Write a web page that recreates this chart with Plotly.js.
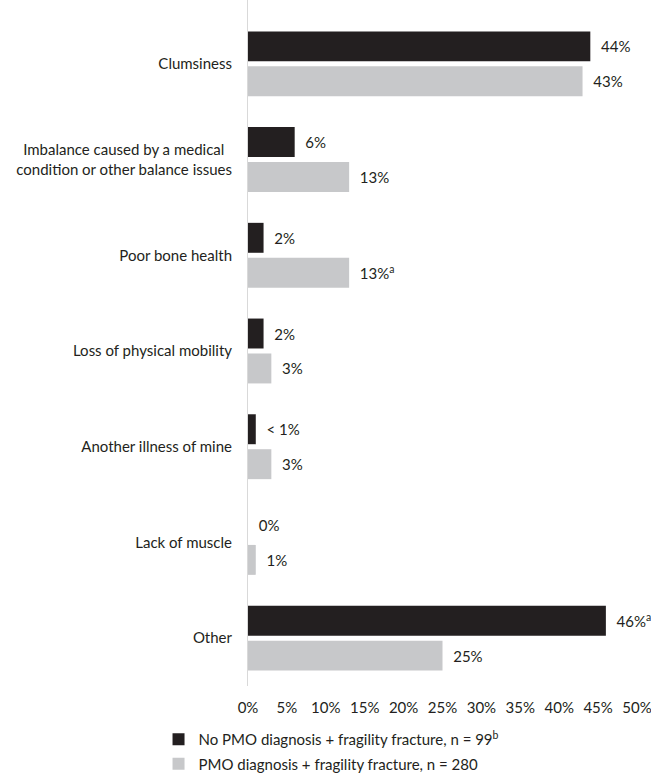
<!DOCTYPE html>
<html>
<head>
<meta charset="utf-8">
<script src="https://cdn.plot.ly/plotly-3.0.1.min.js"></script>
<style>html,body{margin:0;padding:0;background:#fff;}</style>
</head>
<body>
<div id="chart" style="width:651px;height:776px;"></div>
<script>
const categories = [
  "Clumsiness",
  "Imbalance caused by a medical\u00a0\u00a0<br>condition or other balance issues",
  "Poor bone health",
  "Loss of physical mobility",
  "Another illness of mine",
  "Lack of muscle",
  "Other"
];
const noPmoValues = [44, 6, 2, 2, 1, 0, 46];
const pmoValues = [43, 13, 13, 3, 3, 1, 25];
const noPmoLabels = ["44%", "6%", "2%", "2%", "< 1%", "0%", "46%<sup>a</sup>"];
const pmoLabels = ["43%", "13%", "13%<sup>a</sup>", "3%", "3%", "1%", "25%"];
const seriesNames = [
  "No PMO diagnosis + fragility fracture, n = 99<sup>b</sup>",
  "PMO diagnosis + fragility fracture, n = 280"
];
const xTicks = [0, 5, 10, 15, 20, 25, 30, 35, 40, 45, 50];
const xTickText = ["0%", "5%", "10%", "15%", "20%", "25%", "30%", "35%", "40%", "45%", "50%"];

const font = "Lato, 'Open Sans', sans-serif";
const textColor = "#231f20";
const fs = 15;

const traces = [
  {
    type: "bar", orientation: "h",
    y: categories, x: noPmoValues,
    name: seriesNames[0], legendgroup: "a",
    marker: {color: "#231f20"},
    text: noPmoLabels, texttemplate: "\u00a0\u00a0%{text}",
    textposition: "outside", cliponaxis: false,
    textfont: {family: font, size: fs, color: textColor},
    hoverinfo: "skip"
  },
  {
    type: "bar", orientation: "h",
    y: categories, x: pmoValues,
    name: seriesNames[1], legendgroup: "b",
    marker: {color: "#c7c8ca"},
    text: pmoLabels, texttemplate: "\u00a0\u00a0%{text}",
    textposition: "outside", cliponaxis: false,
    textfont: {family: font, size: fs, color: textColor},
    hoverinfo: "skip"
  }
];

const layout = {
  width: 651, height: 776,
  margin: {l: 248, r: 14, t: 0, b: 90, pad: 0, autoexpand: false},
  paper_bgcolor: "#fff", plot_bgcolor: "#fff",
  font: {family: font, size: fs, color: textColor},
  barmode: "group", bargap: 0.27, bargroupgap: 0.143,
  showlegend: true,
  legend: {
    orientation: "v", x: -0.23, xanchor: "left",
    y: -0.054, yanchor: "top",
    traceorder: "grouped", tracegroupgap: 2,
    font: {family: font, size: fs, color: textColor},
    bgcolor: "rgba(0,0,0,0)"
  },
  xaxis: {
    range: [0, 50], tickmode: "array", tickvals: xTicks, ticktext: xTickText,
    showgrid: false, zeroline: false, showline: false, ticks: "",
    ticklabelstandoff: 11, ticklabeloverflow: "allow",
    automargin: false,
    tickfont: {family: font, size: fs, color: textColor}
  },
  yaxis: {
    type: "category", range: [6.5, -0.667],
    showgrid: false, zeroline: false,
    showline: true, linecolor: "#d9d9d9", linewidth: 1,
    ticks: "", ticklabelstandoff: 12,
    automargin: false,
    tickfont: {family: font, size: fs, color: textColor}
  }
};

Plotly.newPlot("chart", traces, layout, {displayModeBar: false, staticPlot: true});
</script>
</body>
</html>
